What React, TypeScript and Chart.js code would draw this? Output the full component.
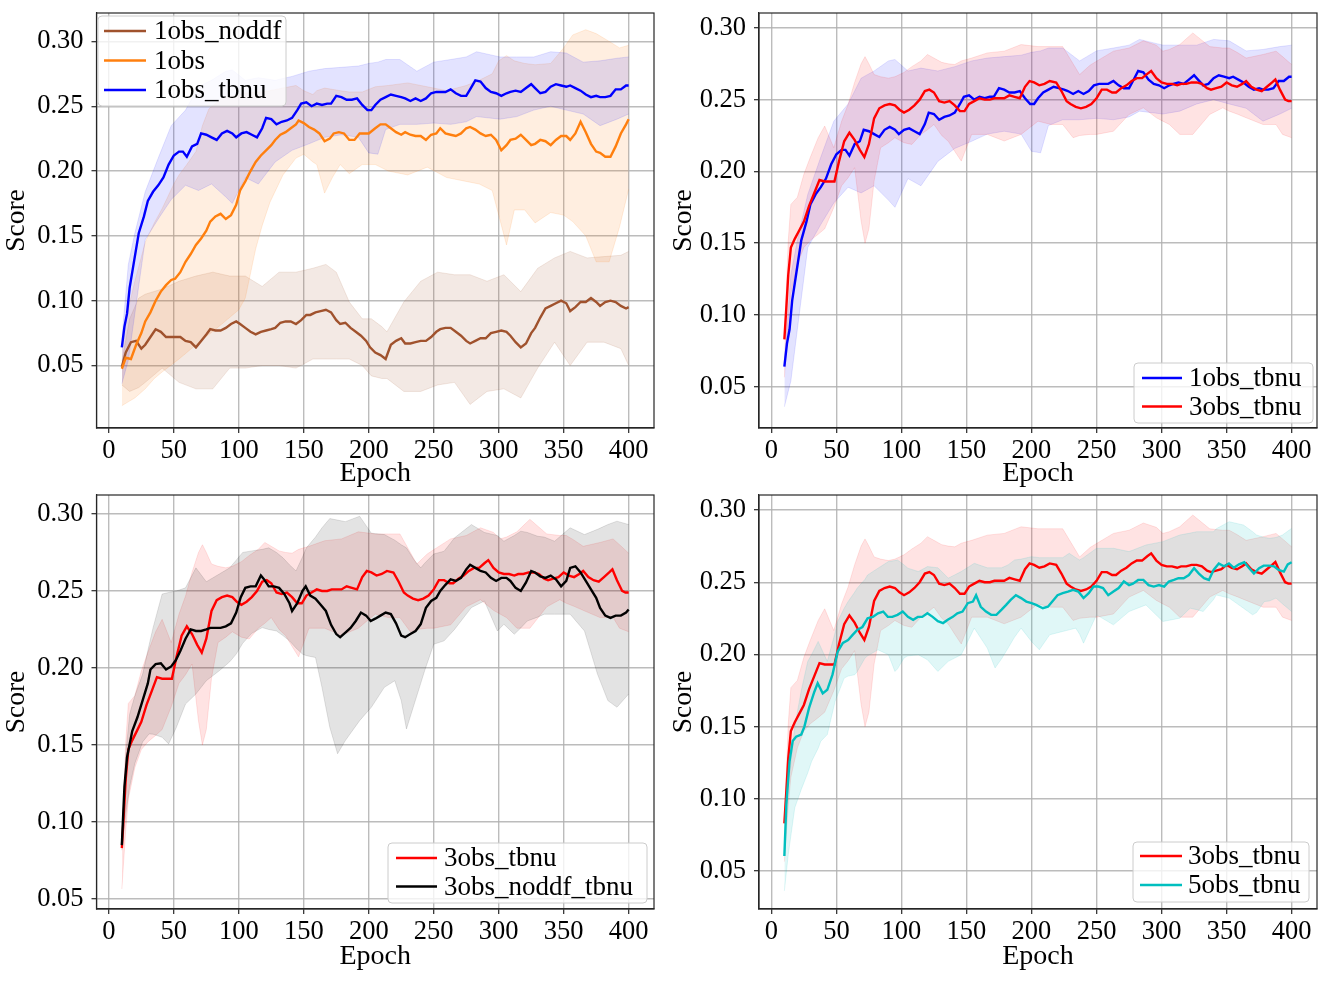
import React, { useEffect, useRef } from "react";
import { Chart, registerables } from "chart.js";
Chart.register(...registerables);

const FONT = "'Liberation Serif', 'Times New Roman', Times, serif";

// ---- ticks ----
const X_TICKS = [0, 50, 100, 150, 200, 250, 300, 350, 400];
const Y_TICKS = [0.05, 0.1, 0.15, 0.2, 0.25, 0.3];

// ---- 1obs_tbnu ----
const EP_TBNU1 = [10, 12, 14, 16, 19, 23, 27, 30, 34, 38, 42, 46, 50, 54, 57, 60, 64, 68, 71, 75, 79, 83, 87, 91, 95, 98, 102, 106, 110, 114, 118, 121, 125, 129, 133, 137, 141, 145, 148, 152, 156, 160, 164, 168, 171, 175, 179, 183, 187, 191, 195, 199, 202, 205, 209, 213, 217, 221, 225, 228, 232, 236, 240, 244, 248, 252, 255, 259, 263, 267, 271, 275, 278, 282, 286, 290, 294, 298, 302, 306, 309, 313, 317, 321, 325, 328, 332, 336, 340, 344, 348, 352, 355, 359, 363, 367, 371, 375, 378, 382, 386, 390, 394, 398, 400];
const TBNU1 = [0.064, 0.080, 0.090, 0.110, 0.128, 0.152, 0.165, 0.177, 0.184, 0.189, 0.195, 0.205, 0.212, 0.215, 0.215, 0.211, 0.219, 0.221, 0.229, 0.228, 0.226, 0.224, 0.229, 0.231, 0.229, 0.226, 0.229, 0.230, 0.228, 0.226, 0.233, 0.241, 0.240, 0.236, 0.238, 0.239, 0.241, 0.247, 0.252, 0.253, 0.250, 0.252, 0.251, 0.252, 0.252, 0.258, 0.257, 0.255, 0.255, 0.256, 0.251, 0.247, 0.247, 0.251, 0.255, 0.257, 0.259, 0.258, 0.257, 0.256, 0.254, 0.256, 0.254, 0.256, 0.260, 0.261, 0.261, 0.261, 0.263, 0.260, 0.258, 0.258, 0.263, 0.270, 0.269, 0.264, 0.261, 0.260, 0.258, 0.260, 0.261, 0.262, 0.261, 0.264, 0.267, 0.264, 0.260, 0.261, 0.265, 0.267, 0.266, 0.265, 0.266, 0.264, 0.262, 0.259, 0.257, 0.258, 0.257, 0.257, 0.258, 0.263, 0.263, 0.266, 0.266];
const EP_TBNU1_BAND = [10, 15, 20, 28, 38, 48, 59, 69, 79, 90, 95, 105, 115, 128, 141, 154, 166, 179, 192, 200, 207, 213, 224, 237, 250, 263, 275, 283, 301, 314, 327, 340, 352, 365, 378, 391, 400];
const TBNU1_HI = [0.070, 0.128, 0.152, 0.184, 0.210, 0.235, 0.247, 0.265, 0.270, 0.277, 0.278, 0.270, 0.272, 0.270, 0.273, 0.277, 0.279, 0.280, 0.281, 0.283, 0.284, 0.286, 0.286, 0.277, 0.284, 0.286, 0.288, 0.292, 0.288, 0.288, 0.288, 0.292, 0.291, 0.284, 0.285, 0.287, 0.288];
const TBNU1_LO = [0.036, 0.054, 0.090, 0.147, 0.163, 0.178, 0.189, 0.185, 0.190, 0.180, 0.175, 0.195, 0.190, 0.207, 0.216, 0.221, 0.226, 0.228, 0.226, 0.214, 0.213, 0.232, 0.236, 0.236, 0.237, 0.236, 0.238, 0.242, 0.240, 0.242, 0.247, 0.250, 0.247, 0.244, 0.235, 0.240, 0.244];

// ---- 1obs ----
const EP_OBS1 = [10, 13, 17, 21, 25, 28, 32, 36, 40, 44, 48, 51, 55, 59, 63, 67, 71, 75, 78, 82, 86, 90, 94, 98, 101, 105, 109, 113, 117, 121, 125, 128, 132, 136, 140, 144, 146, 150, 154, 158, 162, 166, 170, 173, 177, 181, 185, 189, 193, 196, 200, 205, 209, 213, 217, 221, 225, 228, 232, 236, 240, 244, 248, 252, 255, 259, 263, 267, 271, 275, 278, 282, 286, 290, 294, 298, 302, 306, 309, 313, 317, 321, 325, 328, 332, 336, 340, 344, 348, 352, 355, 359, 363, 367, 371, 375, 378, 382, 386, 390, 394, 398, 400];
const OBS1 = [0.0475, 0.056, 0.055, 0.066, 0.075, 0.084, 0.091, 0.100, 0.107, 0.112, 0.116, 0.117, 0.122, 0.130, 0.136, 0.143, 0.148, 0.154, 0.161, 0.165, 0.167, 0.163, 0.166, 0.174, 0.185, 0.192, 0.200, 0.207, 0.212, 0.216, 0.220, 0.224, 0.228, 0.230, 0.233, 0.236, 0.239, 0.237, 0.234, 0.232, 0.229, 0.223, 0.225, 0.229, 0.230, 0.229, 0.224, 0.224, 0.229, 0.229, 0.229, 0.233, 0.236, 0.236, 0.233, 0.230, 0.228, 0.230, 0.228, 0.227, 0.227, 0.224, 0.228, 0.229, 0.233, 0.229, 0.228, 0.227, 0.229, 0.233, 0.234, 0.232, 0.229, 0.227, 0.228, 0.224, 0.216, 0.220, 0.224, 0.225, 0.228, 0.224, 0.220, 0.221, 0.224, 0.223, 0.220, 0.224, 0.227, 0.227, 0.224, 0.229, 0.238, 0.230, 0.221, 0.215, 0.214, 0.211, 0.211, 0.219, 0.229, 0.236, 0.240];
const EP_OBS1_BAND = [10, 15, 20, 28, 35, 41, 50, 54, 60, 67, 72, 77, 87, 100, 105, 113, 118, 124, 134, 144, 150, 157, 160, 166, 172, 178, 185, 195, 205, 215, 230, 245, 260, 275, 285, 295, 300, 306, 312, 320, 328, 340, 350, 357, 367, 375, 385, 393, 400];
const OBS1_HI = [0.068, 0.094, 0.115, 0.145, 0.160, 0.171, 0.190, 0.197, 0.205, 0.215, 0.235, 0.248, 0.256, 0.259, 0.260, 0.261, 0.261, 0.262, 0.264, 0.266, 0.262, 0.259, 0.262, 0.264, 0.263, 0.262, 0.261, 0.261, 0.265, 0.266, 0.268, 0.265, 0.262, 0.266, 0.270, 0.275, 0.285, 0.289, 0.285, 0.283, 0.282, 0.283, 0.295, 0.305, 0.309, 0.306, 0.300, 0.295, 0.297];
const OBS1_LO = [0.019, 0.022, 0.025, 0.032, 0.040, 0.045, 0.052, 0.055, 0.060, 0.066, 0.070, 0.074, 0.082, 0.093, 0.102, 0.140, 0.158, 0.176, 0.197, 0.210, 0.213, 0.207, 0.205, 0.183, 0.195, 0.205, 0.198, 0.205, 0.205, 0.200, 0.197, 0.203, 0.195, 0.192, 0.190, 0.185, 0.166, 0.143, 0.170, 0.170, 0.160, 0.168, 0.166, 0.161, 0.150, 0.130, 0.130, 0.157, 0.186];

// ---- 1obs_noddf ----
const EP_NODDF1 = [10, 13, 17, 21, 25, 28, 32, 36, 40, 44, 48, 55, 59, 63, 67, 71, 75, 78, 82, 86, 90, 94, 98, 101, 105, 109, 113, 117, 121, 125, 128, 132, 136, 140, 144, 148, 152, 155, 159, 163, 167, 171, 175, 178, 182, 186, 190, 194, 198, 201, 205, 209, 213, 217, 221, 225, 228, 232, 236, 240, 244, 248, 252, 255, 259, 263, 267, 271, 275, 278, 282, 286, 290, 294, 298, 302, 306, 309, 313, 317, 321, 325, 328, 332, 336, 340, 344, 348, 352, 355, 359, 363, 367, 371, 375, 378, 382, 386, 390, 394, 398, 400];
const NODDF1 = [0.049, 0.060, 0.068, 0.069, 0.063, 0.066, 0.072, 0.078, 0.076, 0.072, 0.072, 0.072, 0.069, 0.068, 0.064, 0.069, 0.074, 0.078, 0.077, 0.077, 0.079, 0.082, 0.084, 0.082, 0.079, 0.076, 0.074, 0.076, 0.077, 0.078, 0.079, 0.083, 0.084, 0.084, 0.082, 0.085, 0.089, 0.089, 0.091, 0.092, 0.093, 0.091, 0.085, 0.082, 0.083, 0.079, 0.076, 0.073, 0.069, 0.064, 0.060, 0.058, 0.055, 0.066, 0.069, 0.071, 0.067, 0.067, 0.068, 0.069, 0.069, 0.072, 0.076, 0.078, 0.079, 0.079, 0.076, 0.073, 0.069, 0.067, 0.069, 0.071, 0.071, 0.075, 0.076, 0.077, 0.076, 0.073, 0.068, 0.064, 0.067, 0.075, 0.079, 0.087, 0.094, 0.096, 0.098, 0.100, 0.098, 0.092, 0.095, 0.099, 0.099, 0.102, 0.099, 0.096, 0.099, 0.100, 0.099, 0.096, 0.094, 0.095];
const EP_NODDF1_BAND = [10, 16, 23, 28, 41, 54, 67, 80, 93, 105, 118, 131, 144, 157, 167, 175, 185, 195, 202, 210, 214, 227, 240, 253, 266, 278, 291, 304, 317, 330, 343, 355, 368, 381, 394, 400];
const NODDF1_HI = [0.053, 0.086, 0.102, 0.105, 0.109, 0.115, 0.119, 0.122, 0.119, 0.119, 0.111, 0.122, 0.122, 0.125, 0.128, 0.122, 0.099, 0.086, 0.086, 0.080, 0.076, 0.099, 0.115, 0.122, 0.120, 0.120, 0.115, 0.120, 0.107, 0.125, 0.133, 0.138, 0.133, 0.134, 0.135, 0.138];
const NODDF1_LO = [0.035, 0.030, 0.033, 0.037, 0.048, 0.037, 0.032, 0.032, 0.048, 0.048, 0.050, 0.050, 0.048, 0.055, 0.055, 0.055, 0.055, 0.050, 0.042, 0.040, 0.040, 0.030, 0.030, 0.035, 0.037, 0.020, 0.030, 0.032, 0.025, 0.048, 0.068, 0.050, 0.068, 0.068, 0.063, 0.050];

// ---- 3obs_tbnu ----
const EP_TBNU3 = [10, 11.5, 13, 15, 18, 21.5, 25, 29, 33, 37, 41, 45, 48.5, 52, 56, 60, 64, 68, 71.5, 75, 79, 83, 87, 91, 95, 98.5, 102, 106, 110, 114, 118, 121.5, 125, 129, 133, 137, 141, 145, 148.5, 152, 156, 160, 164, 168, 171.5, 175, 179, 183, 187, 191, 195, 198.5, 202, 206, 210, 214, 219, 223, 227, 230, 234, 238, 242, 246, 250, 254, 258, 262, 265, 269, 273, 277, 281, 285, 289, 292, 296, 300, 304, 308, 312, 315, 319, 323, 327, 331, 335, 338, 342, 346, 350, 354, 358, 362, 365, 369, 373, 377, 381, 385, 387.5, 391, 395, 397.5, 400];
const TBNU3 = [0.083, 0.105, 0.128, 0.147, 0.153, 0.159, 0.165, 0.176, 0.185, 0.194, 0.193, 0.193, 0.193, 0.207, 0.221, 0.227, 0.222, 0.215, 0.210, 0.219, 0.237, 0.244, 0.246, 0.247, 0.246, 0.243, 0.241, 0.243, 0.246, 0.250, 0.256, 0.257, 0.255, 0.249, 0.248, 0.249, 0.246, 0.242, 0.242, 0.247, 0.249, 0.251, 0.250, 0.250, 0.251, 0.251, 0.251, 0.253, 0.252, 0.251, 0.259, 0.263, 0.262, 0.260, 0.261, 0.263, 0.262, 0.256, 0.249, 0.247, 0.245, 0.244, 0.245, 0.247, 0.251, 0.257, 0.257, 0.255, 0.255, 0.258, 0.260, 0.263, 0.265, 0.265, 0.268, 0.270, 0.265, 0.262, 0.261, 0.261, 0.260, 0.261, 0.261, 0.262, 0.262, 0.261, 0.258, 0.257, 0.258, 0.259, 0.262, 0.260, 0.259, 0.261, 0.263, 0.259, 0.257, 0.256, 0.259, 0.262, 0.264, 0.257, 0.250, 0.249, 0.249];
const EP_TBNU3_BAND = [10, 13, 15, 20, 25, 30, 36, 41, 48, 54, 59, 64, 69, 72, 75, 79, 84, 90, 95, 102, 108, 115, 120, 125, 131, 136, 141, 146, 154, 166, 179, 192, 205, 215, 224, 232, 237, 245, 250, 263, 275, 286, 296, 301, 306, 314, 324, 337, 347, 352, 358, 365, 378, 388, 393, 400];
const TBNU3_HI = [0.084, 0.152, 0.177, 0.182, 0.198, 0.210, 0.2235, 0.2316, 0.2165, 0.235, 0.2467, 0.262, 0.275, 0.280, 0.275, 0.2675, 0.266, 0.265, 0.266, 0.269, 0.273, 0.277, 0.2815, 0.279, 0.276, 0.275, 0.2745, 0.277, 0.279, 0.2826, 0.2838, 0.2884, 0.287, 0.287, 0.287, 0.275, 0.2675, 0.274, 0.2768, 0.2838, 0.286, 0.291, 0.288, 0.2838, 0.285, 0.2884, 0.2965, 0.287, 0.286, 0.286, 0.283, 0.279, 0.2815, 0.2838, 0.280, 0.2745];
const TBNU3_LO = [0.0565, 0.095, 0.115, 0.1353, 0.147, 0.152, 0.1562, 0.160, 0.1748, 0.19, 0.1956, 0.2026, 0.1655, 0.150, 0.160, 0.1933, 0.2165, 0.220, 0.2235, 0.220, 0.2188, 0.2258, 0.229, 0.2327, 0.225, 0.221, 0.214, 0.2072, 0.2258, 0.2258, 0.2212, 0.2258, 0.235, 0.2327, 0.2327, 0.2235, 0.225, 0.2258, 0.2258, 0.228, 0.2397, 0.2443, 0.2374, 0.235, 0.2327, 0.2258, 0.2258, 0.2397, 0.2443, 0.242, 0.240, 0.2374, 0.2327, 0.2327, 0.2258, 0.2235];

// ---- 3obs_noddf_tbnu ----
const EP_NODDF3 = [10, 12, 14, 18, 22, 26, 30, 32, 36, 40, 44, 48, 51.5, 55, 59, 63, 67, 71, 75, 78, 82, 86, 90, 94, 98, 101.5, 105, 109, 113, 117, 119.5, 123, 127, 131, 135, 139, 141, 145, 149, 151.5, 155, 159, 163, 167, 171, 175, 178, 182, 186, 190, 194, 198, 201.5, 205, 209, 213, 217, 221, 225, 228, 232, 236, 240, 244, 248, 252, 255, 259, 263, 267, 271, 275, 278, 282, 286, 290, 294, 298, 302, 306, 309, 313, 317, 321, 325, 328, 332, 336, 340, 344, 348, 352, 355, 359, 363, 367, 371, 375, 378, 382, 386, 390, 394, 398, 400];
const NODDF3 = [0.085, 0.123, 0.142, 0.159, 0.168, 0.179, 0.190, 0.199, 0.2025, 0.203, 0.199, 0.201, 0.205, 0.211, 0.219, 0.225, 0.224, 0.224, 0.225, 0.226, 0.226, 0.226, 0.227, 0.229, 0.236, 0.246, 0.252, 0.253, 0.253, 0.260, 0.2575, 0.253, 0.253, 0.252, 0.248, 0.242, 0.237, 0.242, 0.250, 0.253, 0.247, 0.245, 0.241, 0.237, 0.228, 0.222, 0.220, 0.223, 0.226, 0.2305, 0.236, 0.234, 0.2305, 0.232, 0.234, 0.236, 0.235, 0.229, 0.221, 0.220, 0.222, 0.224, 0.2285, 0.239, 0.2435, 0.2455, 0.250, 0.254, 0.2575, 0.2565, 0.2585, 0.264, 0.267, 0.265, 0.263, 0.262, 0.2585, 0.2565, 0.2585, 0.2585, 0.2565, 0.252, 0.250, 0.2555, 0.263, 0.262, 0.2595, 0.2585, 0.260, 0.2575, 0.253, 0.2565, 0.265, 0.266, 0.262, 0.2565, 0.251, 0.2455, 0.239, 0.234, 0.2325, 0.234, 0.234, 0.236, 0.238];
const EP_NODDF3_BAND = [10, 13, 16, 20, 26, 31, 34, 41, 46, 52, 59, 67, 75, 85, 93, 98, 103, 110, 118, 123, 129, 134, 139, 144, 149, 152, 159, 164, 170, 176, 182, 193, 202, 212, 220, 225, 229, 235, 240, 243, 250, 258, 266, 279, 289, 299, 304, 312, 317, 322, 330, 335, 343, 355, 366, 376, 384, 391, 400];
const NODDF3_HI = [0.086, 0.144, 0.170, 0.182, 0.196, 0.215, 0.226, 0.248, 0.249, 0.250, 0.252, 0.265, 0.256, 0.261, 0.265, 0.270, 0.275, 0.276, 0.277, 0.278, 0.275, 0.2715, 0.267, 0.263, 0.272, 0.278, 0.285, 0.291, 0.297, 0.296, 0.295, 0.2985, 0.2875, 0.2866, 0.283, 0.280, 0.278, 0.270, 0.265, 0.268, 0.274, 0.2758, 0.2845, 0.2931, 0.288, 0.286, 0.2823, 0.286, 0.2888, 0.288, 0.2855, 0.285, 0.2823, 0.291, 0.2866, 0.290, 0.2931, 0.2953, 0.2931];
const NODDF3_LO = [0.0817, 0.105, 0.1227, 0.138, 0.152, 0.1572, 0.157, 0.155, 0.1507, 0.1615, 0.1766, 0.1831, 0.1917, 0.1982, 0.204, 0.209, 0.216, 0.2225, 0.2262, 0.225, 0.224, 0.221, 0.2176, 0.213, 0.209, 0.208, 0.2068, 0.1874, 0.1615, 0.1443, 0.1529, 0.1658, 0.1745, 0.1874, 0.1917, 0.1788, 0.1604, 0.1766, 0.190, 0.1982, 0.2154, 0.2176, 0.225, 0.2392, 0.2435, 0.224, 0.2284, 0.2219, 0.226, 0.2305, 0.233, 0.2349, 0.2349, 0.2349, 0.224, 0.196, 0.1788, 0.1745, 0.1831];

// ---- 5obs_tbnu ----
const EP_TBNU5 = [10, 11.5, 14, 16.4, 19, 23, 25.4, 29, 33, 35.6, 39.5, 43, 47, 51, 55, 59, 62.5, 66, 70, 74, 78, 82, 86, 89.5, 93, 97, 101, 105, 109, 112.6, 116, 120, 124, 128, 132, 135.6, 139.5, 143, 147, 151, 155, 157.4, 161, 165, 169, 173, 177, 180.5, 184, 188, 192, 196, 200, 203.6, 208.7, 212.6, 216, 220, 224, 228, 232, 236, 240, 244, 247.7, 251.5, 255, 259, 263, 267, 271, 275, 278, 282, 286, 290, 294, 298, 302, 305.6, 309.5, 313, 317, 321, 325, 328.7, 332.6, 336.4, 340, 344, 348, 351.8, 355.6, 359.5, 363.6, 367.4, 371, 375, 378.5, 382.6, 386.4, 390, 394, 397, 400];
const TBNU5 = [0.0604, 0.096, 0.126, 0.140, 0.143, 0.1445, 0.150, 0.163, 0.174, 0.180, 0.173, 0.1755, 0.186, 0.202, 0.208, 0.210, 0.2135, 0.217, 0.219, 0.225, 0.226, 0.2285, 0.2297, 0.226, 0.226, 0.2274, 0.2297, 0.226, 0.224, 0.226, 0.226, 0.2285, 0.226, 0.223, 0.2217, 0.224, 0.226, 0.2285, 0.2297, 0.2355, 0.2366, 0.241, 0.233, 0.2297, 0.2274, 0.2274, 0.231, 0.2343, 0.2378, 0.241, 0.239, 0.2366, 0.2355, 0.2343, 0.232, 0.233, 0.2366, 0.241, 0.2424, 0.2435, 0.2447, 0.2435, 0.239, 0.2424, 0.247, 0.247, 0.246, 0.241, 0.2435, 0.246, 0.2505, 0.248, 0.249, 0.2516, 0.2516, 0.248, 0.247, 0.248, 0.247, 0.2505, 0.2516, 0.2528, 0.2528, 0.255, 0.2597, 0.256, 0.2528, 0.2516, 0.2585, 0.263, 0.261, 0.263, 0.260, 0.2624, 0.2638, 0.2597, 0.256, 0.2597, 0.2615, 0.2615, 0.261, 0.2585, 0.2574, 0.2624, 0.2638];
const EP_TBNU5_BAND = [10, 13, 18, 23, 28, 31, 36, 38, 43, 49, 51, 56, 59, 64, 66, 72, 74, 82, 90, 95, 97, 102, 105, 113, 120, 128, 136, 146, 156, 166, 172, 177, 182, 187, 192, 200, 206, 214, 224, 229, 234, 237, 240, 250, 263, 275, 288, 301, 314, 322, 327, 332, 340, 342, 352, 363, 370, 373, 379, 383, 388, 393, 400];
const TBNU5_HI = [0.0615, 0.1076, 0.150, 0.175, 0.1952, 0.200, 0.209, 0.205, 0.1952, 0.215, 0.2228, 0.232, 0.2366, 0.243, 0.2459, 0.252, 0.255, 0.2597, 0.2643, 0.265, 0.2654, 0.262, 0.2597, 0.2574, 0.2608, 0.260, 0.2528, 0.2574, 0.2631, 0.260, 0.260, 0.260, 0.262, 0.2654, 0.266, 0.2677, 0.267, 0.267, 0.267, 0.270, 0.267, 0.2654, 0.267, 0.2735, 0.2735, 0.2712, 0.2758, 0.2781, 0.2827, 0.284, 0.285, 0.285, 0.285, 0.287, 0.2919, 0.2896, 0.285, 0.2827, 0.281, 0.2804, 0.281, 0.2827, 0.2873];
const TBNU5_LO = [0.0362, 0.0615, 0.0938, 0.1065, 0.118, 0.126, 0.135, 0.1399, 0.1445, 0.1675, 0.172, 0.1836, 0.185, 0.1859, 0.188, 0.1975, 0.199, 0.2032, 0.1998, 0.1882, 0.190, 0.1975, 0.199, 0.1998, 0.1963, 0.1882, 0.1952, 0.1998, 0.2182, 0.2044, 0.1906, 0.197, 0.2044, 0.212, 0.2182, 0.209, 0.2032, 0.2136, 0.2159, 0.217, 0.2182, 0.214, 0.2078, 0.2274, 0.2205, 0.2297, 0.2343, 0.2228, 0.2251, 0.232, 0.231, 0.2297, 0.238, 0.2412, 0.239, 0.232, 0.2274, 0.229, 0.2366, 0.237, 0.239, 0.235, 0.2297];

type Series = { label: string; color: string; band: string; ep: number[]; val: number[]; bep: number[]; hi: number[]; lo: number[] };

const S_NODDF1: Series = { label: "1obs_noddf", color: "#a0522d", band: "rgba(160,82,45,0.13)", ep: EP_NODDF1, val: NODDF1, bep: EP_NODDF1_BAND, hi: NODDF1_HI, lo: NODDF1_LO };
const S_OBS1: Series = { label: "1obs", color: "#ff7f0e", band: "rgba(255,127,14,0.13)", ep: EP_OBS1, val: OBS1, bep: EP_OBS1_BAND, hi: OBS1_HI, lo: OBS1_LO };
const S_TBNU1: Series = { label: "1obs_tbnu", color: "#0000ff", band: "rgba(0,0,255,0.11)", ep: EP_TBNU1, val: TBNU1, bep: EP_TBNU1_BAND, hi: TBNU1_HI, lo: TBNU1_LO };
const S_TBNU3: Series = { label: "3obs_tbnu", color: "#ff0000", band: "rgba(255,0,0,0.11)", ep: EP_TBNU3, val: TBNU3, bep: EP_TBNU3_BAND, hi: TBNU3_HI, lo: TBNU3_LO };
const S_NODDF3: Series = { label: "3obs_noddf_tbnu", color: "#000000", band: "rgba(0,0,0,0.11)", ep: EP_NODDF3, val: NODDF3, bep: EP_NODDF3_BAND, hi: NODDF3_HI, lo: NODDF3_LO };
const S_TBNU5: Series = { label: "5obs_tbnu", color: "#00bfbf", band: "rgba(0,191,191,0.12)", ep: EP_TBNU5, val: TBNU5, bep: EP_TBNU5_BAND, hi: TBNU5_HI, lo: TBNU5_LO };

type Panel = {
  left: number; top: number; w: number; h: number;
  yW: number; xH: number; padTop: number; padRight: number;
  yMin: number; yMax: number;
  series: Series[];
  legend: { x: number; y: number; w: number; h: number; l0: number; l1: number; tx: number; rows: number[] };
};

const PANELS: Panel[] = [
  { left: 0, top: 0, w: 660, h: 490, yW: 96.5, xH: 62, padTop: 13, padRight: 6, yMin: 0.0018, yMax: 0.3219,
    series: [S_NODDF1, S_OBS1, S_TBNU1],
    legend: { x: 98, y: 16, w: 188, h: 90, l0: 104, l1: 146, tx: 154, rows: [31, 60.5, 90] } },
  { left: 667, top: 0, w: 658, h: 490, yW: 92, xH: 62, padTop: 13, padRight: 8, yMin: 0.0212, yMax: 0.3104,
    series: [S_TBNU1, S_TBNU3],
    legend: { x: 467, y: 363, w: 179, h: 60, l0: 475, l1: 515, tx: 522, rows: [378, 406.5] } },
  { left: 0, top: 490, w: 660, h: 483, yW: 96.5, xH: 64, padTop: 5, padRight: 6, yMin: 0.0435, yMax: 0.3123,
    series: [S_TBNU3, S_NODDF3],
    legend: { x: 388, y: 353, w: 259, h: 60, l0: 396, l1: 437, tx: 444, rows: [368, 396.5] } },
  { left: 667, top: 490, w: 658, h: 483, yW: 92, xH: 64, padTop: 5, padRight: 8, yMin: 0.0237, yMax: 0.3104,
    series: [S_TBNU3, S_TBNU5],
    legend: { x: 466, y: 352, w: 176, h: 60, l0: 473, l1: 515, tx: 521, rows: [366, 395] } },
];

const pts = (xs: number[], ys: number[]) => {
  const n = Math.min(xs.length, ys.length);
  const out: { x: number; y: number }[] = [];
  for (let i = 0; i < n; i++) out.push({ x: xs[i], y: ys[i] });
  return out;
};

function buildDatasets(series: Series[]) {
  const ds: any[] = [];
  series.forEach((s, i) => {
    ds.push({ label: s.label + " hi", data: pts(s.bep, s.hi), borderColor: s.band, borderWidth: 1, pointRadius: 0, fill: false, tension: 0, order: 1000 - i * 2 });
    ds.push({ label: s.label + " lo", data: pts(s.bep, s.lo), borderColor: s.band, borderWidth: 1, pointRadius: 0, fill: "-1", backgroundColor: s.band, tension: 0, order: 999 - i * 2 });
  });
  series.forEach((s, i) => {
    ds.push({ label: s.label, data: pts(s.ep, s.val), borderColor: s.color, borderWidth: 2.4, pointRadius: 0, fill: false, tension: 0, order: 100 - i });
  });
  return ds;
}

const framePlugin = {
  id: "frameLegend",
  afterDraw(chart: any, _args: any, opts: any) {
    const { ctx, chartArea: a } = chart;
    ctx.save();
    ctx.strokeStyle = "#262626";
    ctx.lineWidth = 1.2;
    ctx.strokeRect(a.left, a.top, a.right - a.left, a.bottom - a.top);
    const lg = opts.legend;
    const series: Series[] = opts.series;
    if (lg) {
      const r = 4;
      ctx.beginPath();
      ctx.moveTo(lg.x + r, lg.y);
      ctx.lineTo(lg.x + lg.w - r, lg.y);
      ctx.quadraticCurveTo(lg.x + lg.w, lg.y, lg.x + lg.w, lg.y + r);
      ctx.lineTo(lg.x + lg.w, lg.y + lg.h - r);
      ctx.quadraticCurveTo(lg.x + lg.w, lg.y + lg.h, lg.x + lg.w - r, lg.y + lg.h);
      ctx.lineTo(lg.x + r, lg.y + lg.h);
      ctx.quadraticCurveTo(lg.x, lg.y + lg.h, lg.x, lg.y + lg.h - r);
      ctx.lineTo(lg.x, lg.y + r);
      ctx.quadraticCurveTo(lg.x, lg.y, lg.x + r, lg.y);
      ctx.closePath();
      ctx.fillStyle = "rgba(255,255,255,0.8)";
      ctx.fill();
      ctx.strokeStyle = "#cccccc";
      ctx.lineWidth = 1;
      ctx.stroke();
      series.forEach((s, i) => {
        const y = lg.rows[i];
        ctx.strokeStyle = s.color;
        ctx.lineWidth = 2.4;
        ctx.beginPath();
        ctx.moveTo(lg.l0, y);
        ctx.lineTo(lg.l1, y);
        ctx.stroke();
        ctx.fillStyle = "#000";
        ctx.font = `27px ${FONT}`;
        ctx.textBaseline = "middle";
        ctx.textAlign = "left";
        ctx.fillText(s.label, lg.tx, y + 1);
      });
    }
    ctx.restore();
  },
};

function makeConfig(p: Panel): any {
  const grid = { color: "rgba(176,176,176,0.85)", lineWidth: 1.4, tickColor: "#262626", tickLength: 5, tickWidth: 1.2, drawTicks: true };
  const border = { display: true, color: "#262626", width: 1.2 };
  return {
    type: "line",
    data: { datasets: buildDatasets(p.series) },
    plugins: [framePlugin],
    options: {
      responsive: false,
      animation: false,
      devicePixelRatio: 1,
      layout: { padding: { top: p.padTop, right: p.padRight, left: 0, bottom: 0 } },
      plugins: {
        legend: { display: false },
        tooltip: { enabled: false },
        filler: { propagate: false },
        frameLegend: { legend: p.legend, series: p.series },
      },
      scales: {
        x: {
          type: "linear",
          min: -9.5,
          max: 419.5,
          afterBuildTicks: (s: any) => { s.ticks = X_TICKS.map((v) => ({ value: v })); },
          afterFit: (s: any) => { s.height = p.xH; s.paddingLeft = 0; s.paddingRight = 0; },
          grid,
          border,
          ticks: { font: { family: FONT, size: 26.5 }, color: "#000", padding: 2, maxRotation: 0, autoSkip: false, callback: (v: any) => String(v) },
          title: { display: true, text: "Epoch", font: { family: FONT, size: 28 }, color: "#000", padding: 0 },
        },
        y: {
          type: "linear",
          min: p.yMin,
          max: p.yMax,
          afterBuildTicks: (s: any) => { s.ticks = Y_TICKS.map((v) => ({ value: v })); },
          afterFit: (s: any) => { s.width = p.yW; s.paddingTop = 0; s.paddingBottom = 0; },
          grid,
          border,
          ticks: { font: { family: FONT, size: 26.5 }, color: "#000", padding: 8, autoSkip: false, callback: (v: any) => Number(v).toFixed(2) },
          title: { display: true, text: "Score", font: { family: FONT, size: 27.5 }, color: "#000", padding: 0 },
        },
      },
    },
  };
}

function ChartPanel({ p }: { p: Panel }) {
  const ref = useRef<HTMLCanvasElement | null>(null);
  useEffect(() => {
    if (!ref.current) return;
    const chart = new Chart(ref.current, makeConfig(p));
    return () => chart.destroy();
  }, [p]);
  return (
    <canvas
      ref={ref}
      width={p.w}
      height={p.h}
      style={{ position: "absolute", left: p.left, top: p.top, width: p.w, height: p.h }}
    />
  );
}

export default function App() {
  return (
    <div style={{ position: "absolute", left: 0, top: 0, width: 1325, height: 983, background: "#fff", overflow: "hidden" }}>
      {PANELS.map((p, i) => (
        <ChartPanel key={i} p={p} />
      ))}
    </div>
  );
}
